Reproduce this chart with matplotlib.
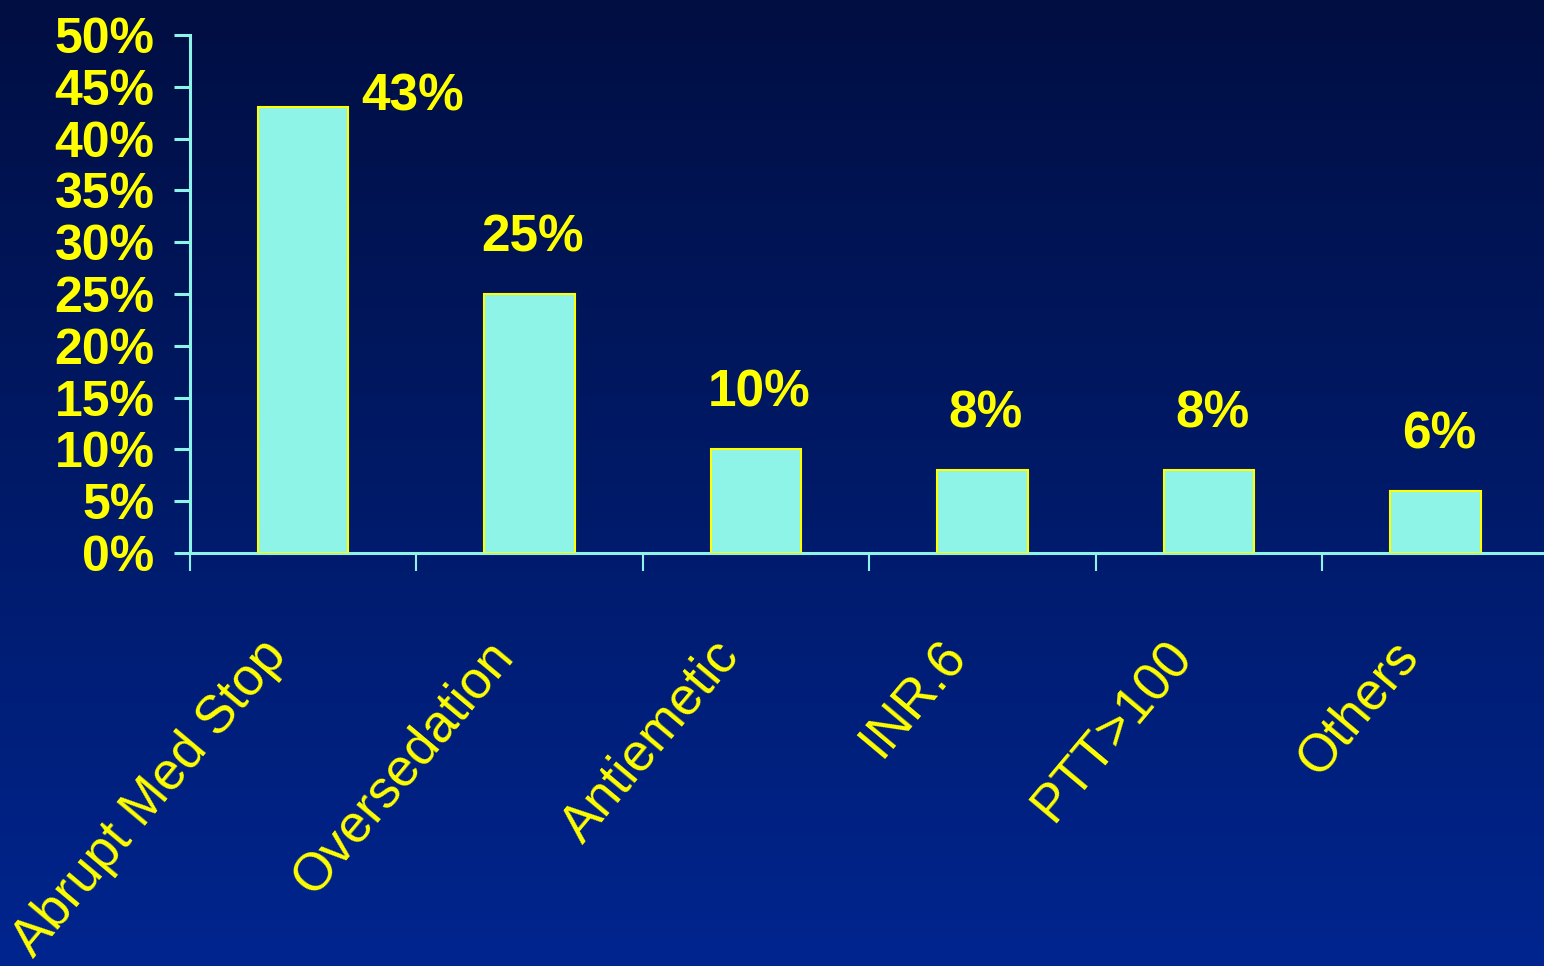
import numpy as np
import matplotlib
matplotlib.use('Agg')
import matplotlib.pyplot as plt
import matplotlib.transforms as mtransforms
from matplotlib.colors import LinearSegmentedColormap

# data
categories = ['Abrupt Med Stop', 'Oversedation', 'Antiemetic', 'INR.6', 'PTT>100', 'Others']
values = [43, 25, 10, 8, 8, 6]
ytick_vals = [0, 5, 10, 15, 20, 25, 30, 35, 40, 45, 50]

yellow = '#FFFF00'
cyan = '#8EF4E8'
font = ['Liberation Sans', 'DejaVu Sans']

fig = plt.figure(figsize=(15.44, 9.66), dpi=100)

# background gradient, dark navy on top to blue at the bottom
bg = fig.add_axes([0, 0, 1, 1], zorder=-1)
cmap = LinearSegmentedColormap.from_list('bg', ['#000E42', '#001A68', '#00258F'])
grad = np.linspace(0, 1, 256).reshape(-1, 1)
bg.imshow(grad, aspect='auto', cmap=cmap, extent=[0, 1, 0, 1], origin='upper')
bg.axis('off')

ax = fig.add_axes([0.123, 0.4275, 0.88, 0.5363])
ax.patch.set_alpha(0)

x = np.arange(len(categories)) + 0.5
ax.bar(x, values, width=0.4, color=cyan, edgecolor=yellow, linewidth=1.5, zorder=3)

ax.set_xlim(0, len(categories))
ax.set_ylim(0, 50)

# value labels; first one sits beside its bar
for i, v in enumerate(values):
    if i == 0:
        ax.text(x[i] + 0.485, v + 1.0, f'{v}%', ha='center', va='center',
                color=yellow, fontsize=37, fontweight='bold', family=font)
    else:
        ax.text(x[i] + 0.015, v + 5.4, f'{v}%', ha='center', va='center',
                color=yellow, fontsize=37, fontweight='bold', family=font)

# y axis
ax.set_yticks(ytick_vals)
ax.set_yticklabels([f'{t}%' for t in ytick_vals], color=yellow, fontsize=36,
                   fontweight='bold', family=font)
ax.tick_params(axis='y', direction='out', length=11.5, width=2.2, color=cyan, pad=14)

# x axis: ticks on category borders, labels hanging below each centre
ax.set_xticks(np.arange(len(categories) + 1))
ax.set_xticklabels([])
ax.tick_params(axis='x', direction='out', length=13, width=1.5, color=cyan)
off = mtransforms.ScaledTranslation(-45 / 100, -78 / 100, fig.dpi_scale_trans)
for i, c in enumerate(categories):
    ax.text(x[i], 0, c, transform=ax.transData + off, rotation=50,
            ha='right', va='top', rotation_mode='anchor',
            color=yellow, fontsize=38, family=font)

for s in ['top', 'right']:
    ax.spines[s].set_visible(False)
for s in ['left', 'bottom']:
    ax.spines[s].set_color(cyan)
    ax.spines[s].set_linewidth(2.2)

fig.savefig('out.png', dpi=100)
